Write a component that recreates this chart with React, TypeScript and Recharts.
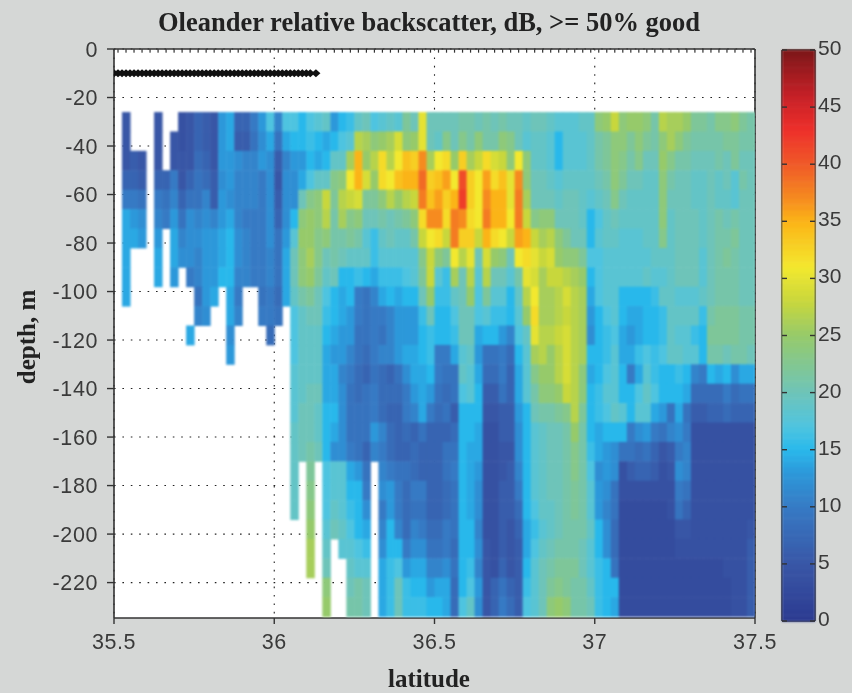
import React from 'react';
import { ScatterChart, Scatter, XAxis, YAxis, CartesianGrid } from 'recharts';

const _ = null;
const chartTitle = 'Oleander relative backscatter, dB, >= 50% good';
const xTicks = [35.5, 36, 36.5, 37, 37.5];
const yTicks = [0, -20, -40, -60, -80, -100, -120, -140, -160, -180, -200, -220];
const barTicks = [0, 5, 10, 15, 20, 25, 30, 35, 40, 45, 50];
const barLevels = [0.25,0.75,1.25,1.75,2.25,2.75,3.25,3.75,4.25,4.75,5.25,5.75,6.25,6.75,7.25,7.75,8.25,8.75,9.25,9.75,10.25,10.75,11.25,11.75,12.25,12.75,13.25,13.75,14.25,14.75,15.25,15.75,16.25,16.75,17.25,17.75,18.25,18.75,19.25,19.75,20.25,20.75,21.25,21.75,22.25,22.75,23.25,23.75,24.25,24.75,25.25,25.75,26.25,26.75,27.25,27.75,28.25,28.75,29.25,29.75,30.25,30.75,31.25,31.75,32.25,32.75,33.25,33.75,34.25,34.75,35.25,35.75,36.25,36.75,37.25,37.75,38.25,38.75,39.25,39.75,40.25,40.75,41.25,41.75,42.25,42.75,43.25,43.75,44.25,44.75,45.25,45.75,46.25,46.75,47.25,47.75,48.25,48.75,49.25,49.75];
const latitudes = [35.5125,35.5375,35.5625,35.5875,35.6125,35.6375,35.6625,35.6875,35.7125,35.7375,35.7625,35.7875,35.8125,35.8375,35.8625,35.8875,35.9125,35.9375,35.9625,35.9875,36.0125,36.0375,36.0625,36.0875,36.1125,36.1375,36.1625,36.1875,36.2125,36.2375,36.2625,36.2875,36.3125,36.3375,36.3625,36.3875,36.4125,36.4375,36.4625,36.4875,36.5125,36.5375,36.5625,36.5875,36.6125,36.6375,36.6625,36.6875,36.7125,36.7375,36.7625,36.7875,36.8125,36.8375,36.8625,36.8875,36.9125,36.9375,36.9625,36.9875,37.0125,37.0375,37.0625,37.0875,37.1125,37.1375,37.1625,37.1875,37.2125,37.2375,37.2625,37.2875,37.3125,37.3375,37.3625,37.3875,37.4125,37.4375,37.4625,37.4875];
const depths = [-30,-38,-46,-54,-62,-70,-78,-86,-94,-102,-110,-118,-126,-134,-142,-150,-158,-166,-174,-182,-190,-198,-206,-214,-222,-230];
const trackLats = [35.5,35.5125,35.525,35.5375,35.55,35.5625,35.575,35.5875,35.6,35.6125,35.625,35.6375,35.65,35.6625,35.675,35.6875,35.7,35.7125,35.725,35.7375,35.75,35.7625,35.775,35.7875,35.8,35.8125,35.825,35.8375,35.85,35.8625,35.875,35.8875,35.9,35.9125,35.925,35.9375,35.95,35.9625,35.975,35.9875,36,36.0125,36.025,36.0375,36.05,36.0625,36.075,36.0875,36.1,36.1125,36.13];
const trackDepth = -10;

const d30 = [_,5,_,_,_,5,_,_,4,5,7,6,5,13,14,7,7,10,13,17,11,17,17,15,17,18,19,13,15,16,19,20,17,18,19,18,22,20,30,20,20,20,20,21,21,20,21,20,21,20,20,19,20,20,19,18,18,18,19,19,24,25,28,24,25,25,24,21,27,26,26,25,22,22,21,23,23,24,22,21];
const d38 = [_,5,_,_,_,5,_,5,4,5,7,6,5,13,14,6,6,9,12,14,9,14,15,15,16,15,14,15,17,18,27,26,24,25,26,29,24,25,30,20,19,23,20,23,21,24,21,21,24,23,20,18,19,19,18,15,18,18,18,19,21,22,24,24,22,24,22,21,24,26,24,22,21,21,21,21,22,22,21,21];
const d46 = [_,5,6,5,_,5,_,5,5,5,8,7,5,13,13,12,11,11,13,12,6,11,13,13,15,14,15,19,19,26,35,25,27,32,27,31,34,33,37,26,31,32,25,33,26,28,32,29,28,24,31,24,19,19,18,15,18,18,18,19,21,22,24,23,21,23,20,20,25,23,21,21,20,20,20,21,20,22,20,20];
const d54 = [_,7,7,6,_,7,7,10,5,7,9,8,6,12,13,11,11,11,10,12,5,12,12,14,17,19,19,23,24,31,35,29,25,32,31,34,35,35,39,33,34,36,31,41,33,31,36,32,34,30,37,24,20,20,19,18,19,19,19,19,20,21,24,22,20,20,19,19,24,21,20,20,19,19,20,19,20,18,21,20];
const d62 = [_,10,10,9,_,10,9,11,7,9,9,11,6,13,12,11,11,11,10,12,6,12,12,20,23,24,28,22,27,28,29,22,22,24,27,25,27,28,38,34,36,33,35,42,33,31,37,35,35,30,38,26,20,20,20,19,20,20,19,18,19,20,23,20,19,19,19,19,24,20,20,20,19,19,20,19,19,18,20,20];
const d70 = [_,14,13,12,_,11,10,13,9,12,11,12,11,13,14,11,10,10,10,12,7,12,15,24,25,24,27,21,26,23,24,20,20,21,20,21,22,24,32,37,37,32,38,37,32,31,38,35,35,31,38,28,23,24,24,20,20,20,19,15,17,19,20,19,19,19,19,19,24,19,20,20,20,19,20,21,20,21,20,20];
const d78 = [_,14,14,13,_,13,_,14,11,12,12,13,13,14,15,12,11,10,10,12,9,13,18,25,25,23,24,21,21,22,21,18,16,19,20,19,19,21,28,31,32,28,38,33,33,28,35,32,31,28,36,35,28,26,27,24,22,20,20,15,18,19,19,18,18,18,19,19,23,19,20,20,20,19,20,21,21,22,20,20];
const d86 = [_,14,_,_,_,14,_,14,12,12,11,13,13,14,15,12,11,10,10,11,9,14,20,24,26,23,20,21,20,19,19,19,16,18,18,18,18,18,23,28,24,22,31,27,30,20,29,25,24,20,31,32,30,28,29,25,24,24,22,17,17,18,18,18,18,18,18,19,19,19,20,20,20,18,20,21,22,21,20,20];
const d94 = [_,14,_,_,_,14,_,13,_,10,11,13,13,15,15,11,11,10,10,11,9,14,20,24,25,22,19,20,15,15,16,15,14,16,16,16,17,18,22,28,18,16,26,20,27,18,27,20,20,18,21,30,29,26,28,28,27,26,25,15,17,18,18,18,18,18,19,18,18,19,20,20,20,18,20,21,21,21,20,20];
const d102 = [_,14,_,_,_,_,_,_,_,_,9,13,14,_,14,10,_,_,9,10,8,14,19,21,22,20,17,15,14,15,10,9,11,14,15,14,15,15,20,25,16,16,19,20,25,17,22,18,18,15,19,27,31,26,26,27,29,27,26,14,17,18,18,15,15,15,15,16,19,19,18,18,18,19,20,21,21,21,20,20];
const d110 = [_,_,_,_,_,_,_,_,_,_,11,12,_,_,14,11,_,_,10,10,9,_,17,19,20,20,16,15,14,13,10,9,10,10,11,13,13,13,16,20,15,15,17,20,20,17,18,16,16,15,18,25,32,26,26,27,28,27,26,13,15,17,18,15,14,14,15,15,16,19,19,19,19,16,21,22,22,22,21,21];
const d118 = [_,_,_,_,_,_,_,_,_,14,_,_,_,_,12,_,_,_,_,8,_,_,17,19,19,19,15,14,13,13,9,9,10,9,11,13,13,13,15,16,15,15,16,20,20,14,15,15,13,11,17,19,30,27,27,28,29,27,26,12,15,16,17,14,13,14,15,15,16,19,18,18,16,15,22,22,22,22,21,21];
const d126 = [_,_,_,_,_,_,_,_,_,_,_,_,_,_,13,_,_,_,_,_,_,_,17,19,19,19,14,13,13,11,9,8,10,11,11,13,14,14,15,16,10,10,14,18,19,13,9,9,10,8,15,18,26,27,25,27,29,27,26,15,15,16,18,14,14,16,17,16,17,19,19,18,18,15,21,21,20,21,21,20];
const d134 = [_,_,_,_,_,_,_,_,_,_,_,_,_,_,_,_,_,_,_,_,_,_,18,19,19,19,14,14,11,10,8,7,9,8,7,9,12,14,14,15,10,9,9,19,18,14,8,8,10,7,14,18,23,25,25,27,29,27,24,14,15,17,18,15,10,14,18,16,15,15,16,15,11,10,15,14,15,12,14,14];
const d142 = [_,_,_,_,_,_,_,_,_,_,_,_,_,_,_,_,_,_,_,_,_,_,18,19,20,20,14,14,12,9,8,9,10,8,8,8,10,13,14,13,9,8,9,17,18,15,6,6,9,7,14,18,21,24,24,25,28,27,24,15,16,18,18,15,15,17,19,17,15,15,15,14,8,8,8,8,10,8,9,9];
const d150 = [_,_,_,_,_,_,_,_,_,_,_,_,_,_,_,_,_,_,_,_,_,_,18,20,20,19,15,15,12,9,9,9,10,8,7,7,10,11,14,10,8,9,6,15,15,15,5,5,6,6,13,15,20,21,21,22,23,27,22,15,16,17,19,18,15,18,18,14,13,9,14,9,6,6,7,7,8,7,7,7];
const d158 = [_,_,_,_,_,_,_,_,_,_,_,_,_,_,_,_,_,_,_,_,_,_,19,20,20,19,15,14,12,9,9,9,13,11,8,7,8,7,9,7,7,7,8,15,15,14,4,4,6,6,12,15,18,19,20,20,21,25,21,15,14,15,15,15,10,12,13,10,9,11,12,10,4,4,4,4,4,4,4,4];
const d166 = [_,_,_,_,_,_,_,_,_,_,_,_,_,_,_,_,_,_,_,_,_,_,19,20,21,20,15,12,12,10,9,7,11,10,8,7,7,8,7,7,7,9,9,15,14,14,4,4,5,5,12,15,18,19,20,20,21,23,21,16,14,13,12,9,9,8,9,7,5,6,10,11,4,4,4,4,4,4,4,4];
const d174 = [_,_,_,_,_,_,_,_,_,_,_,_,_,_,_,_,_,_,_,_,_,_,19,_,22,_,17,18,18,14,13,9,_,11,10,9,9,8,7,7,7,9,10,15,14,13,4,4,5,6,11,15,18,19,20,20,21,23,21,17,12,13,12,4,6,7,7,6,4,5,12,11,4,4,4,4,4,4,4,4];
const d182 = [_,_,_,_,_,_,_,_,_,_,_,_,_,_,_,_,_,_,_,_,_,_,19,_,23,_,17,18,18,15,15,10,_,12,13,10,8,10,10,7,7,8,9,15,14,12,4,4,6,6,10,15,18,19,20,20,21,22,21,18,13,12,9,4,4,4,4,4,4,4,10,9,4,4,4,4,4,4,4,4];
const d190 = [_,_,_,_,_,_,_,_,_,_,_,_,_,_,_,_,_,_,_,_,_,_,19,_,24,_,17,19,18,16,15,12,_,10,13,10,8,9,9,7,7,8,9,15,14,12,4,4,6,6,8,15,17,19,19,20,21,22,21,18,13,11,9,3,3,3,3,3,3,4,9,7,4,4,4,4,4,4,4,4];
const d198 = [_,_,_,_,_,_,_,_,_,_,_,_,_,_,_,_,_,_,_,_,_,_,_,_,25,_,18,20,19,17,15,14,_,11,15,11,8,11,10,8,8,10,9,15,15,11,4,4,6,5,7,14,16,18,19,20,21,21,21,19,15,12,8,3,3,3,3,3,3,3,5,5,4,4,4,4,4,4,4,5];
const d206 = [_,_,_,_,_,_,_,_,_,_,_,_,_,_,_,_,_,_,_,_,_,_,_,_,26,_,19,_,18,18,17,16,_,12,15,15,10,12,12,9,9,10,8,15,15,12,5,4,6,5,6,14,17,19,20,21,21,21,20,18,15,12,8,3,3,3,3,3,3,3,4,4,4,4,4,4,4,4,4,6];
const d214 = [_,_,_,_,_,_,_,_,_,_,_,_,_,_,_,_,_,_,_,_,_,_,_,_,26,_,20,_,_,19,18,18,_,14,16,17,13,14,14,11,11,12,9,15,16,11,5,4,7,5,6,15,18,20,21,22,22,22,20,18,16,15,9,3,3,3,3,3,3,3,3,3,3,3,3,3,4,4,4,6];
const d222 = [_,_,_,_,_,_,_,_,_,_,_,_,_,_,_,_,_,_,_,_,_,_,_,_,_,_,24,_,_,20,21,20,_,14,16,20,16,15,15,13,14,14,8,15,17,13,5,7,9,7,6,16,18,20,22,23,22,21,21,19,16,15,15,3,3,3,3,3,3,3,3,3,3,3,3,3,3,4,4,6];
const d230 = [_,_,_,_,_,_,_,_,_,_,_,_,_,_,_,_,_,_,_,_,_,_,_,_,_,_,25,_,_,21,21,20,_,14,16,20,16,16,16,15,15,14,8,17,19,12,5,7,10,8,6,17,18,20,24,25,24,21,21,20,16,15,14,3,3,3,3,3,3,3,3,3,3,3,3,3,3,4,4,6];
const rows = [d30,d38,d46,d54,d62,d70,d78,d86,d94,d102,d110,d118,d126,d134,d142,d150,d158,d166,d174,d182,d190,d198,d206,d214,d222,d230];

const colorStops: [number, number[]][] = [
  [0, [43, 57, 144]], [3, [52, 76, 158]], [5, [56, 86, 166]], [10, [54, 122, 196]], [13, [44, 152, 218]], [15, [40, 184, 235]],
  [17, [78, 196, 224]], [20, [110, 196, 185]], [25, [150, 202, 106]], [28, [200, 215, 60]], [31, [243, 232, 46]],
  [35, [251, 180, 23]], [37, [246, 139, 31]], [40, [239, 90, 40]], [43, [238, 47, 42]], [46, [198, 32, 39]], [50, [124, 22, 24]],
];
function colorOf(v: number) {
  for (let i = 1; i < colorStops.length; i++) {
    const [b, cb] = colorStops[i];
    const [a, ca] = colorStops[i - 1];
    if (v <= b) {
      const t = (v - a) / (b - a);
      return `rgb(${ca.map((c, k) => Math.round(c + (cb[k] - c) * t)).join(',')})`;
    }
  }
  return 'rgb(124,22,24)';
}

const cells = rows.flatMap((row, r) =>
  row.flatMap((v, c) => (v === null ? [] : [{ lat: latitudes[c], depth: depths[r], v }]))
);
const track = trackLats.map((lat) => ({ lat, depth: trackDepth }));
const topMarks = latitudes.map((lat) => ({ lat, depth: -0.9 }));
const barData = barLevels.map((level) => ({ x: 0.5, level }));

const W = 852, H = 693, BG = '#d5d7d6', INK = '#333';
const plot = { left: 114, right: 755, top: 49, bottom: 618 };
const yMin = -234.6;
const cellW = ((plot.right - plot.left) / 2) * 0.025;
const cellH = ((plot.bottom - plot.top) / -yMin) * 8;
const bar = { left: 22, right: 55, top: 50, bottom: 621 };
const barH = (bar.bottom - bar.top) / 100;
const tickFont = { fontFamily: '"Liberation Sans", Arial, sans-serif', fontSize: 21.5, fill: '#3a3a3a', letterSpacing: 0.6 };
const labelFont = { fontFamily: '"Liberation Serif", serif', fontWeight: 700, fill: '#222' };

const NoShape = () => null;
const CellShape = (p: any) => (
  <rect x={p.cx - cellW / 2} y={p.cy - cellH / 2} width={cellW + 0.5} height={cellH + 0.5} fill={colorOf(p.payload.v)} />
);
const TrackShape = (p: any) => (
  <path d={`M${p.cx - 4.5} ${p.cy}L${p.cx} ${p.cy - 4}L${p.cx + 4.5} ${p.cy}L${p.cx} ${p.cy + 4}Z`} fill="#111" />
);
const TopShape = (p: any) => <rect x={p.cx - 0.6} y={p.cy - 2} width={1.2} height={3.5} fill="#333" />;
const BarShape = (p: any) => (
  <rect x={bar.left} y={p.cy - barH / 2} width={bar.right - bar.left} height={barH + 0.5} fill={colorOf(p.payload.level)} />
);
const BarTick = (p: any) => (
  <g>
    <line x1={bar.left} x2={bar.left + 5} y1={p.y} y2={p.y} stroke="#333" strokeWidth={1.4} />
    <line x1={bar.right - 5} x2={bar.right} y1={p.y} y2={p.y} stroke="#333" strokeWidth={1.4} />
    <text x={bar.right + 3} y={p.y + 5} {...tickFont} fontSize={21} letterSpacing={0}>{p.payload.value}</text>
  </g>
);
const axisLine = { stroke: INK, strokeWidth: 1.6 };
const tickLine = { stroke: INK, strokeWidth: 1.4 };

export default function App() {
  return (
    <div style={{ position: 'absolute', left: 0, top: 0, width: W, height: H, background: BG, overflow: 'hidden', filter: 'blur(0.45px)' }}>
      <style>{'.soft-cells{filter:blur(0.9px)}'}</style>
      <ScatterChart width={W} height={H} margin={{ left: plot.left - 60, right: W - plot.right - 1, top: plot.top - 1, bottom: H - plot.bottom - 40 }} style={{ position: 'absolute', left: 0, top: 0 }}>
        <CartesianGrid fill="#ffffff" stroke="#222" strokeWidth={1.1} strokeDasharray="1.6 6.8" xAxisId="bottom" yAxisId="left" syncWithTicks />
        <Scatter className="soft-cells" data={cells} dataKey="depth" xAxisId="bottom" yAxisId="left" shape={CellShape} isAnimationActive={false} />
        <Scatter data={topMarks} dataKey="depth" xAxisId="bottom" yAxisId="left" shape={TopShape} isAnimationActive={false} />
        <Scatter data={track} dataKey="depth" xAxisId="bottom" yAxisId="left" shape={TrackShape} isAnimationActive={false} />
        <Scatter data={track} dataKey="depth" xAxisId="top" yAxisId="right" shape={NoShape} isAnimationActive={false} />
        <XAxis xAxisId="bottom" type="number" dataKey="lat" orientation="bottom" domain={[35.5, 37.5]} ticks={xTicks} height={40} allowDataOverflow interval={0}
          tick={tickFont} axisLine={axisLine} tickLine={tickLine} tickSize={6} tickMargin={10} />
        <XAxis xAxisId="top" type="number" dataKey="lat" orientation="top" domain={[35.5, 37.5]} ticks={xTicks} height={1} allowDataOverflow interval={0}
          tick={false} axisLine={axisLine} tickLine={tickLine} tickSize={5} />
        <YAxis yAxisId="left" type="number" dataKey="depth" orientation="left" domain={[yMin, 0]} ticks={yTicks} width={60} allowDataOverflow interval={0}
          tick={tickFont} axisLine={axisLine} tickLine={tickLine} tickSize={7} tickMargin={9} />
        <YAxis yAxisId="right" type="number" dataKey="depth" orientation="right" domain={[yMin, 0]} ticks={yTicks} width={1} allowDataOverflow interval={0}
          tick={false} axisLine={axisLine} tickLine={tickLine} tickSize={5} />
        <text x={429} y={31} textAnchor="middle" fontSize={26.5} {...labelFont}>{chartTitle}</text>
        <text x={429} y={687} textAnchor="middle" fontSize={25} {...labelFont}>latitude</text>
        <text x={35} y={337} textAnchor="middle" fontSize={25} transform="rotate(-90 35 337)" {...labelFont}>depth, m</text>
      </ScatterChart>
      <ScatterChart width={92} height={H} margin={{ left: bar.left - 1, right: 92 - bar.right - 1, top: bar.top - 1, bottom: H - bar.bottom - 1 }} style={{ position: 'absolute', left: 760, top: 0 }}>
        <Scatter className="soft-cells" data={barData} dataKey="level" xAxisId="c" yAxisId="l" shape={BarShape} isAnimationActive={false} />
        <Scatter data={barData} dataKey="level" xAxisId="t" yAxisId="r" shape={NoShape} isAnimationActive={false} />
        <XAxis xAxisId="c" type="number" dataKey="x" orientation="bottom" domain={[0, 1]} height={1} tick={false} tickLine={false} axisLine={axisLine} />
        <XAxis xAxisId="t" type="number" dataKey="x" orientation="top" domain={[0, 1]} height={1} tick={false} tickLine={false} axisLine={axisLine} />
        <YAxis yAxisId="l" type="number" dataKey="level" orientation="left" domain={[0, 50]} width={1} tick={false} tickLine={false} axisLine={axisLine} />
        <YAxis yAxisId="r" type="number" dataKey="level" orientation="right" domain={[0, 50]} ticks={barTicks} width={1} interval={0} tick={BarTick} tickLine={false} axisLine={axisLine} />
      </ScatterChart>
    </div>
  );
}
